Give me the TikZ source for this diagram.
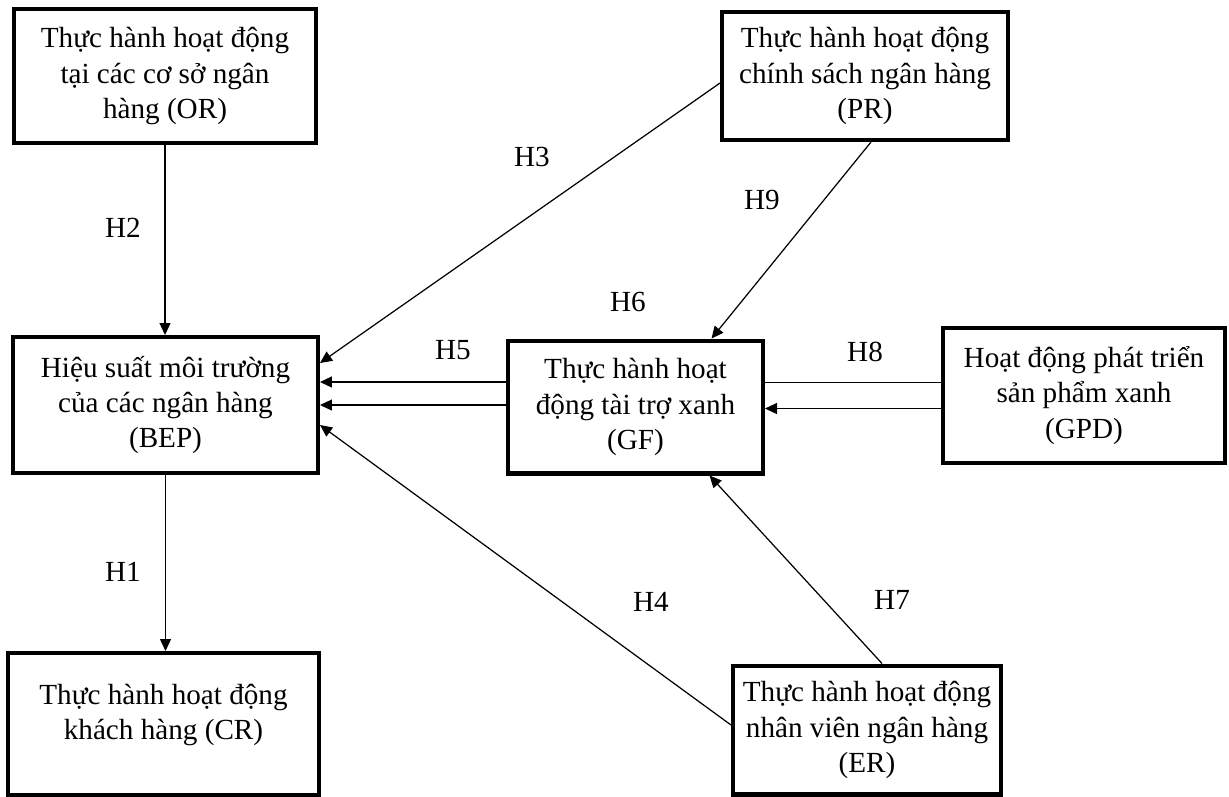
\documentclass[tikz,border=0pt]{standalone}
\usepackage{fontspec}
\setmainfont{Liberation Serif}
\usetikzlibrary{calc,arrows.meta}
\tikzset{
  hbox/.style={draw, line width=2.3pt, align=center, inner sep=0pt,
    font=\fontsize{16.6}{20}\selectfont},
  hlink/.style={line width=0.7pt},
  harrow/.style={hlink, -{Triangle[length=0.24cm,width=0.22cm]}},
  hlabel/.style={font=\fontsize{16.6}{20}\selectfont}
}

\begin{document}
\begin{tikzpicture}[x=0.02cm,y=-0.02cm]
        \useasboundingbox (0,0) rectangle (1229,796);
        % The boxes
        \node[hbox, minimum width=6.04cm, minimum height=2.68cm] (OR) at (165,76)
          {Thực hành hoạt động\\tại các cơ sở ngân\\hàng (OR)};
        \node[hbox, minimum width=5.72cm, minimum height=2.56cm] (PR) at (865,76)
          {Thực hành hoạt động\\chính sách ngân hàng\\(PR)};
        \node[hbox, minimum width=6.1cm, minimum height=2.72cm] (BEP) at (165.5,405)
          {Hiệu suất môi trường\\của các ngân hàng\\(BEP)};
        \node[hbox, minimum width=5.1cm, minimum height=2.66cm] (GF) at (635.5,407)
          {Thực hành hoạt\\động tài trợ xanh\\(GF)};
        \node[hbox, minimum width=5.64cm, minimum height=2.7cm] (GPD) at (1084,395.5)
          {Hoạt động phát triển\\sản phẩm xanh\\(GPD)};
        \node[hbox, minimum width=6.22cm, minimum height=2.84cm] (CR) at (163.5,724)
          {Thực hành hoạt động\\khách hàng (CR)\\[-6pt]\mbox{}};
        \node[hbox, minimum width=5.36cm, minimum height=2.58cm] (ER) at (867,730)
          {Thực hành hoạt động\\nhân viên ngân hàng\\(ER)};

        % Side points of the double lines
        \coordinate (h5a) at ($(GF.west)+(0,-25)$);
        \coordinate (h5b) at ($(GF.west)+(0,-2)$);
        \coordinate (h8a) at ($(GPD.west)+(0,-13)$);
        \coordinate (h8b) at ($(GPD.west)+(0,13)$);

        % The links
        \draw[harrow] (OR.south) -- (OR.south |- BEP.north);
        \draw[harrow] (BEP.south) -- (BEP.south |- CR.north);
        \draw[harrow] ($(PR.west)+(0,7)$) -- ($(BEP.east)+(0,-42)$);
        \draw[harrow] ($(PR.south)+(6,0)$) -- ($(GF.north)+(76,0)$);
        \draw[harrow] (h5a) -- (h5a -| BEP.east);
        \draw[harrow] (h5b) -- (h5b -| BEP.east);
        \draw[hlink] (h8a) -- (h8a -| GF.east);
        \draw[harrow] (h8b) -- (h8b -| GF.east);
        \draw[harrow] ($(ER.west)+(0,-5)$) -- ($(BEP.east)+(0,20)$);
        \draw[harrow] ($(ER.north)+(15,0)$) -- ($(GF.south)+(74,0)$);

        % The hypotheses
        \node[hlabel] (lH1) at (123,572) {H1};
        \node[hlabel] (lH2) at (123,228) {H2};
        \node[hlabel] (lH3) at (532,157) {H3};
        \node[hlabel] (lH4) at (651,602) {H4};
        \node[hlabel] (lH5) at (453,350) {H5};
        \node[hlabel] (lH6) at (628,302) {H6};
        \node[hlabel] (lH7) at (892,600) {H7};
        \node[hlabel] (lH8) at (865,352) {H8};
        \node[hlabel] (lH9) at (762,200) {H9};
\end{tikzpicture}
\end{document}
